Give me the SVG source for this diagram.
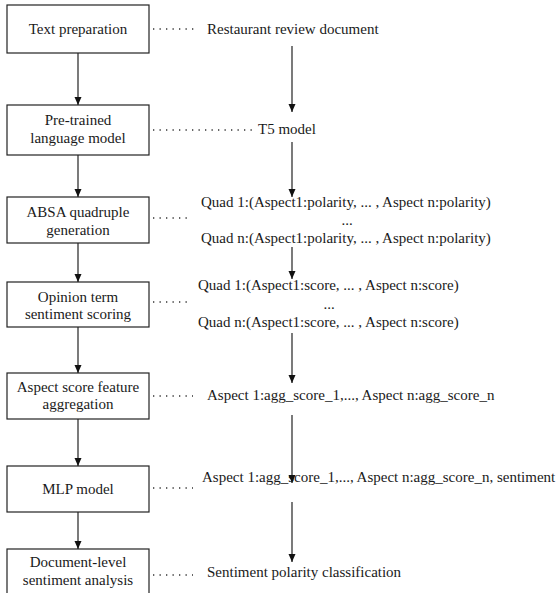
<svg xmlns="http://www.w3.org/2000/svg" width="560" height="593" viewBox="0 0 560 593">
<defs>
<marker id="ah" viewBox="0 0 8 8" refX="8" refY="4" markerWidth="8" markerHeight="8" markerUnits="userSpaceOnUse" orient="auto">
<path d="M0,0.5 L8,4 L0,7.5 Z" fill="#111"/>
</marker>
<style>
.box{fill:#fff;stroke:#222;stroke-width:1.2}
text{font-family:'Liberation Serif','DejaVu Serif',serif;font-size:15px;fill:#1a1a1a}
.c{text-anchor:middle}
.arr{stroke:#222;stroke-width:1.2;fill:none;marker-end:url(#ah)}
.dot{stroke:#333;stroke-width:1.3;fill:none;stroke-dasharray:1.3 5.2}
</style>
</defs>
<rect width="560" height="593" fill="#fff"/>
<g font-family="Liberation Serif, serif">
<g id="n1"><rect class="box" x="7" y="5" width="142" height="48"/><text class="c" x="78" y="34">Text preparation</text></g>
<g id="n2"><rect class="box" x="7" y="105" width="142" height="50"/><text class="c" x="78" y="125">Pre-trained</text><text class="c" x="78" y="143">language model</text></g>
<g id="n3"><rect class="box" x="7" y="197" width="142" height="46"/><text class="c" x="78" y="217">ABSA quadruple</text><text class="c" x="78" y="235">generation</text></g>
<g id="n4"><rect class="box" x="7" y="282" width="142" height="45"/><text class="c" x="78" y="302">Opinion term</text><text class="c" x="78" y="319">sentiment scoring</text></g>
<g id="n5"><rect class="box" x="7" y="373" width="142" height="46"/><text class="c" x="78" y="392">Aspect score feature</text><text class="c" x="78" y="409">aggregation</text></g>
<g id="n6"><rect class="box" x="7" y="466" width="142" height="46"/><text class="c" x="78" y="494">MLP model</text></g>
<g id="n7"><rect class="box" x="7" y="549" width="142" height="48"/><text class="c" x="78" y="567">Document-level</text><text class="c" x="78" y="585">sentiment analysis</text></g>
<g id="labels">
<text x="207" y="34">Restaurant review document</text>
<text x="258" y="134">T5 model</text>
<text x="201" y="207">Quad 1:(Aspect1:polarity, ... , Aspect n:polarity)</text>
<text class="c" x="347" y="225">...</text>
<text x="201" y="243">Quad n:(Aspect1:polarity, ... , Aspect n:polarity)</text>
<text x="198" y="290">Quad 1:(Aspect1:score, ... , Aspect n:score)</text>
<text class="c" x="329" y="309">...</text>
<text x="198" y="327">Quad n:(Aspect1:score, ... , Aspect n:score)</text>
<text x="207" y="400">Aspect 1:agg_score_1,..., Aspect n:agg_score_n</text>
<text x="202" y="482">Aspect 1:agg_score_1,..., Aspect n:agg_score_n, sentiment</text>
<text x="207" y="577">Sentiment polarity classification</text>
</g>
</g>
<g id="connectors">
<line class="arr" x1="78" y1="53" x2="78" y2="105"/>
<line class="arr" x1="78" y1="155" x2="78" y2="197"/>
<line class="arr" x1="78" y1="243" x2="78" y2="282"/>
<line class="arr" x1="78" y1="327" x2="78" y2="373"/>
<line class="arr" x1="78" y1="419" x2="78" y2="466"/>
<line class="arr" x1="78" y1="512" x2="78" y2="549"/>
<line class="arr" x1="292" y1="46" x2="292" y2="112"/>
<line class="arr" x1="292" y1="142" x2="292" y2="197"/>
<line class="arr" x1="292" y1="247" x2="292" y2="279"/>
<line class="arr" x1="292" y1="333" x2="292" y2="383"/>
<line class="arr" x1="292" y1="415" x2="292" y2="483"/>
<line class="arr" x1="292" y1="502" x2="292" y2="562"/>
<line class="dot" x1="153" y1="29" x2="194" y2="29"/>
<line class="dot" x1="153" y1="130" x2="256" y2="130"/>
<line class="dot" x1="153" y1="218" x2="190" y2="218"/>
<line class="dot" x1="153" y1="302" x2="187" y2="302"/>
<line class="dot" x1="153" y1="396" x2="193" y2="396"/>
<line class="dot" x1="153" y1="488" x2="193" y2="488"/>
<line class="dot" x1="153" y1="575" x2="193" y2="575"/>
</g>
</svg>
